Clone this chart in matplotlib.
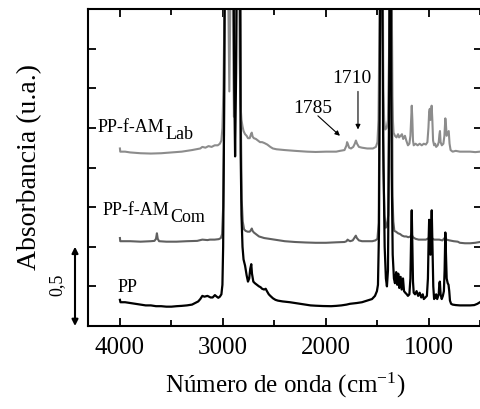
import matplotlib
matplotlib.use("Agg")
import matplotlib.pyplot as plt
from matplotlib.ticker import MultipleLocator, NullFormatter

plt.rcParams['font.family'] = ['Liberation Serif', 'DejaVu Serif']
plt.rcParams['mathtext.fontset'] = 'custom'
plt.rcParams['mathtext.rm'] = 'Liberation Serif'
plt.rcParams['mathtext.default'] = 'regular'

# ---------------- data ----------------
pp_wn = [4000, 3995, 3950, 3900, 3850, 3800, 3750, 3700, 3650, 3600, 3550, 3500, 3450, 3400, 3350, 3300,
         3270, 3240, 3220, 3200, 3180, 3150, 3120, 3100, 3078, 3060, 3045, 3030, 3015, 3005, 2998, 2990,
         2980, 2900, 2890, 2882, 2872, 2862, 2840, 2835, 2828, 2820, 2810, 2800, 2785, 2770, 2757, 2745,
         2735, 2725, 2718, 2705, 2690,
         2670, 2650, 2635, 2620, 2600, 2585, 2573, 2555, 2540, 2515, 2490, 2466, 2420, 2350, 2300, 2250,
         2200, 2150, 2100, 2029, 1950, 1900, 1850, 1800, 1767, 1700, 1650, 1600, 1553, 1524, 1505, 1495,
         1485, 1478, 1470, 1455, 1445, 1430, 1418, 1408, 1398, 1388, 1380, 1370, 1362, 1352, 1340, 1330,
         1318, 1308, 1298, 1288, 1275, 1265, 1252, 1242, 1230, 1215, 1204, 1190, 1180, 1172, 1167, 1161,
         1155, 1148, 1135, 1120, 1105, 1090, 1075, 1060, 1050, 1035, 1020, 1010, 1003, 998, 991, 985,
         978, 973, 966, 958, 950, 940, 930, 920, 905, 899, 894, 887, 876, 865, 855, 848,
         841, 835, 828, 818, 810, 803, 796, 785, 770, 740, 700, 650, 600, 560, 530, 505]
pp_abs = [0.165, 0.15, 0.15, 0.145, 0.14, 0.135, 0.13, 0.13, 0.125, 0.125, 0.122, 0.122, 0.125, 0.127, 0.13, 0.135,
          0.145, 0.155, 0.17, 0.19, 0.185, 0.19, 0.18, 0.18, 0.195, 0.185, 0.178, 0.185, 0.2, 0.26, 0.5, 1.2,
          2.5, 2.5, 1.5, 1.07, 1.6, 2.5, 2.5, 2.5, 1.1, 0.7, 0.5, 0.42, 0.38, 0.32, 0.28, 0.3,
          0.36, 0.39, 0.33, 0.28, 0.27,
          0.26, 0.25, 0.245, 0.235, 0.23, 0.235, 0.22, 0.2, 0.19, 0.175, 0.165, 0.16, 0.155, 0.15, 0.145, 0.14,
          0.135, 0.13, 0.128, 0.126, 0.125, 0.127, 0.13, 0.135, 0.14, 0.145, 0.15, 0.16, 0.17, 0.19, 0.22, 0.26,
          0.6, 1.5, 2.5, 2.5, 1.2, 0.5, 0.3, 0.25, 0.35, 1.2, 2.5, 2.5, 1.0, 0.45, 0.3, 0.27,
          0.34, 0.26, 0.33, 0.24, 0.31, 0.23, 0.3, 0.22, 0.21, 0.2, 0.19, 0.2, 0.3, 0.6, 0.73, 0.5,
          0.28, 0.21, 0.2, 0.22, 0.19, 0.21, 0.18, 0.2, 0.17, 0.18, 0.19, 0.3, 0.55, 0.67, 0.5, 0.45,
          0.62, 0.73, 0.5, 0.25, 0.17, 0.18, 0.2, 0.17, 0.2, 0.27, 0.28, 0.2, 0.17, 0.19, 0.22, 0.35,
          0.59, 0.45, 0.3, 0.27, 0.26, 0.22, 0.16, 0.14, 0.135, 0.132, 0.13, 0.13, 0.13, 0.132, 0.14, 0.15]

com_wn = [4000, 3997, 3950, 3900, 3800, 3700, 3665, 3650, 3641, 3633, 3620, 3550, 3450, 3350, 3250, 3200,
          3150, 3126, 3080, 3040, 3020, 3008, 2998, 2990, 2980, 2832, 2826, 2818, 2808, 2795, 2780, 2760,
          2740, 2728, 2720, 2712, 2700, 2680, 2650, 2600, 2550, 2500, 2450, 2400, 2300, 2200, 2100, 2000,
          1900, 1820, 1800, 1790, 1780, 1765, 1740, 1720, 1710, 1700, 1680, 1650, 1600, 1550, 1520, 1500,
          1488, 1480, 1472, 1452, 1442, 1432, 1420, 1408, 1395, 1386, 1380, 1362, 1354, 1346, 1336, 1320,
          1300, 1280, 1260, 1240, 1220, 1200, 1180, 1167, 1155, 1130, 1100, 1060, 1030, 1000, 975, 950,
          900, 870, 841, 830, 800, 760, 720, 700, 650, 600, 550, 505]
com_abs = [0.555, 0.535, 0.535, 0.535, 0.532, 0.535, 0.537, 0.55, 0.585, 0.55, 0.535, 0.532, 0.532, 0.535, 0.537, 0.545,
           0.542, 0.545, 0.545, 0.548, 0.555, 0.58, 0.75, 1.2, 2.5, 2.5, 1.3, 0.8, 0.66, 0.61, 0.6, 0.595,
           0.595, 0.605, 0.615, 0.6, 0.59, 0.58, 0.565, 0.555, 0.55, 0.545, 0.54, 0.535, 0.53, 0.527, 0.525, 0.525,
           0.528, 0.53, 0.535, 0.545, 0.54, 0.535, 0.54, 0.56, 0.57, 0.555, 0.54, 0.535, 0.535, 0.535, 0.54, 0.55,
           0.65, 1.5, 2.5, 2.5, 1.0, 0.7, 0.62, 0.63, 0.7, 1.5, 2.5, 2.5, 0.82, 0.66, 0.6, 0.595,
           0.585, 0.58, 0.57, 0.565, 0.565, 0.56, 0.565, 0.575, 0.56, 0.55, 0.545, 0.545, 0.545, 0.555, 0.555, 0.545,
           0.545, 0.54, 0.56, 0.545, 0.54, 0.535, 0.532, 0.525, 0.522, 0.522, 0.525, 0.53]

lab_wn = [4000, 3997, 3950, 3900, 3800, 3700, 3600, 3500, 3400, 3300, 3220, 3200, 3170, 3140, 3110, 3080,
          3050, 3030, 3015, 3005, 2995, 2985, 2975, 2955, 2945, 2938, 2930, 2920, 2905, 2898, 2893, 2885,
          2875, 2845, 2838, 2830, 2820, 2810, 2800, 2785, 2770, 2757, 2740, 2728, 2720, 2712, 2700, 2680,
          2660, 2640, 2620, 2600, 2570, 2540, 2515, 2480, 2400, 2300, 2185, 2100, 2000, 1900, 1864, 1820,
          1800, 1795, 1788, 1775, 1757, 1735, 1720, 1709, 1698, 1680, 1650, 1600, 1544, 1515, 1500, 1490,
          1482, 1475, 1450, 1443, 1435, 1425, 1410, 1398, 1388, 1380, 1364, 1356, 1350, 1344, 1330, 1315,
          1300, 1290, 1275, 1262, 1250, 1233, 1220, 1204, 1190, 1180, 1172, 1167, 1161, 1155, 1148, 1130,
          1110, 1090, 1070, 1050, 1030, 1015, 1005, 998, 992, 986, 980, 974, 967, 960, 950, 940,
          930, 915, 905, 898, 893, 887, 875, 860, 850, 841, 835, 828, 815, 808, 800, 790,
          770, 740, 700, 650, 600, 550, 505]
lab_abs = [1.12, 1.10, 1.10, 1.095, 1.09, 1.088, 1.09, 1.095, 1.10, 1.11, 1.12, 1.13, 1.125, 1.135, 1.13, 1.14,
           1.14, 1.15, 1.17, 1.25, 1.5, 2.0, 2.5, 2.5, 1.9, 1.48, 1.9, 2.5, 2.5, 1.6, 1.32, 1.7,
           2.5, 2.5, 1.7, 1.4, 1.3, 1.26, 1.23, 1.21, 1.2, 1.185, 1.185, 1.21, 1.22, 1.195, 1.185, 1.18,
           1.17, 1.16, 1.16, 1.155, 1.145, 1.13, 1.12, 1.115, 1.11, 1.105, 1.10, 1.098, 1.10, 1.10, 1.105, 1.11,
           1.14, 1.16, 1.15, 1.125, 1.12, 1.13, 1.15, 1.17, 1.15, 1.13, 1.125, 1.12, 1.12, 1.13, 1.16, 1.3,
           1.8, 2.5, 2.5, 1.5, 1.3, 1.24, 1.25, 1.3, 1.7, 2.5, 2.5, 1.45, 1.3, 1.22, 1.2, 1.19,
           1.21, 1.19, 1.2, 1.21, 1.18, 1.2, 1.17, 1.14, 1.15, 1.2, 1.32, 1.39, 1.3, 1.17, 1.14, 1.15,
           1.14, 1.15, 1.14, 1.15, 1.145, 1.16, 1.25, 1.35, 1.37, 1.3, 1.33, 1.39, 1.3, 1.17, 1.14, 1.15,
           1.13, 1.14, 1.16, 1.21, 1.23, 1.16, 1.14, 1.15, 1.2, 1.31, 1.27, 1.2, 1.22, 1.23, 1.15, 1.11,
           1.10, 1.105, 1.10, 1.10, 1.10, 1.097, 1.10]

x_ticks = [4000, 3000, 2000, 1000]
peak_labels = ["1785", "1710"]
series_names = ["PP", "PP-f-AM", "PP-f-AM"]
series_subs = ["", "Com", "Lab"]

# ---------------- figure ----------------
fig = plt.figure(figsize=(4.8, 4.1), dpi=100)
ax = fig.add_axes([88 / 480, (410 - 327) / 410, (482 - 88) / 480, (327 - 10) / 410])

ax.plot(pp_wn, pp_abs, color='black', lw=1.6, zorder=3)
ax.plot(com_wn, com_abs, color='#606060', lw=1.5, zorder=2)
ax.plot(lab_wn, lab_abs, color='#8c8c8c', lw=1.5, zorder=2)

ax.set_xlim(4310, 485)
ax.set_ylim(0, 2.0)
ax.xaxis.set_major_locator(plt.FixedLocator(x_ticks))
ax.xaxis.set_minor_locator(MultipleLocator(500))
ax.yaxis.set_major_locator(MultipleLocator(0.25))
ax.yaxis.set_major_formatter(NullFormatter())
ax.tick_params(axis='both', which='both', direction='in', top=True, right=True, width=1.3)
ax.tick_params(axis='x', which='major', length=6, labelsize=18, pad=7)
ax.tick_params(axis='x', which='minor', length=4)
ax.tick_params(axis='y', which='major', length=6)
for s in ax.spines.values():
    s.set_linewidth(1.5)

ax.set_xlabel('Número de onda (cm$^{\\mathregular{-1}}$)', fontsize=18, labelpad=9)
fig.text(30 / 480, 1 - 167 / 410, 'Absorbancia (u.a.)', rotation=90, fontsize=20,
         ha='center', va='center')

# series labels
label_pos = [(4019, 0.22), (4165, 0.707), (4213, 1.23)]
for name, sub, (x, y) in zip(series_names, series_subs, label_pos):
    t = ax.text(x, y, name, fontsize=13, ha='left', va='baseline')
    if sub:
        ax.annotate(sub, xy=(1, 0), xycoords=t, xytext=(0.5, -5), textcoords='offset points',
                    fontsize=13, ha='left', va='bottom')

# peak annotations
ax.text(2126, 1.38, peak_labels[0], fontsize=14, ha='center', va='center')
ax.annotate('', xy=(1864, 1.20), xytext=(2078, 1.326),
            arrowprops=dict(arrowstyle='-|>', lw=0.8, color='black', mutation_scale=7, shrinkA=0, shrinkB=0))
ax.text(1748, 1.565, peak_labels[1], fontsize=14, ha='center', va='center')
ax.annotate('', xy=(1689, 1.24), xytext=(1689, 1.48),
            arrowprops=dict(arrowstyle='-|>', lw=0.8, color='black', mutation_scale=7, shrinkA=0, shrinkB=0))

# scale bar 0,5
ytr = ax.get_yaxis_transform()
xf = (75 - 88) / 394
ax.annotate('', xy=(xf, 0.0), xytext=(xf, 0.5), xycoords=ytr, textcoords=ytr,
            arrowprops=dict(arrowstyle='<|-|>', lw=1.5, color='black', mutation_scale=9, shrinkA=0, shrinkB=0),
            annotation_clip=False)
ax.text((57 - 88) / 394, 0.265, '0,5', transform=ytr, rotation=90, fontsize=13, ha='center', va='center',
        clip_on=False)

fig.savefig('out.png', dpi=100)
